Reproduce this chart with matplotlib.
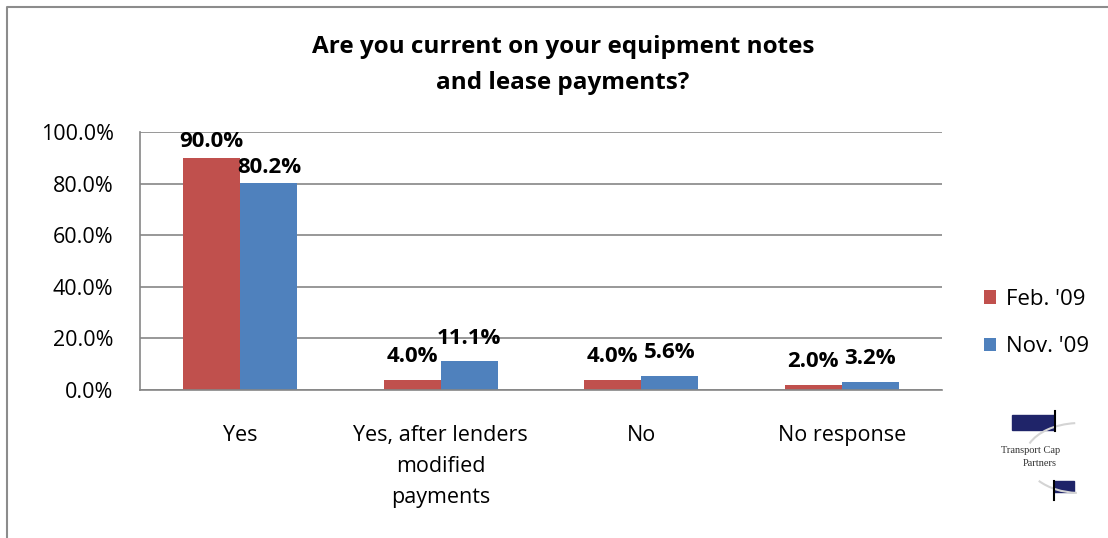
import matplotlib.pyplot as plt
import numpy as np
from matplotlib.patches import Rectangle, Arc

plt.rcParams['font.family'] = ['Open Sans', 'DejaVu Sans']

categories = ['Yes', 'Yes, after lenders\nmodified\npayments', 'No', 'No response']
feb_09 = [90.0, 4.0, 4.0, 2.0]
nov_09 = [80.2, 11.1, 5.6, 3.2]
series_names = ["Feb. '09", "Nov. '09"]

red = '#C0504D'
blue = '#4F81BD'
grid_grey = '#868686'

fig = plt.figure(figsize=(11.08, 5.38), dpi=100)
ax = fig.add_axes([140 / 1108, 1 - 390 / 538, 802 / 1108, 258 / 538])

x = np.arange(len(categories))
w = 0.285
bars_feb = ax.bar(x - w / 2, feb_09, w, color=red, label=series_names[0])
bars_nov = ax.bar(x + w / 2, nov_09, w, color=blue, label=series_names[1])

# value labels above each bar, pushed down a bit near the top of the axis
for bars, vals in [(bars_feb, feb_09), (bars_nov, nov_09)]:
    for b, v in zip(bars, vals):
        off = 4 if v > 75 else 9
        ax.annotate('%.1f%%' % v, (b.get_x() + b.get_width() / 2, v),
                    xytext=(0, off), textcoords='offset points',
                    ha='center', va='bottom', fontsize=16, fontweight='bold')

ax.set_xlim(-0.5, len(categories) - 0.5)
ax.set_ylim(0, 100)
ax.set_yticks(np.arange(0, 101, 20))
ax.set_yticklabels(['%.1f%%' % t for t in np.arange(0, 101, 20)])
ax.set_xticks(x)
ax.set_xticklabels(categories, linespacing=1.64)
ax.tick_params(axis='both', length=0, labelsize=15.5)
ax.tick_params(axis='y', pad=19)
ax.tick_params(axis='x', pad=25)
ax.yaxis.grid(True, color=grid_grey, linewidth=1.2)
ax.set_axisbelow(True)
for side in ['top', 'right']:
    ax.spines[side].set_visible(False)
for side in ['left', 'bottom']:
    ax.spines[side].set_color(grid_grey)
    ax.spines[side].set_linewidth(1.2)

fig.text(563 / 1108, 1 - 65 / 538,
         'Are you current on your equipment notes\nand lease payments?',
         ha='center', va='center', fontsize=17.5, fontweight='bold',
         linespacing=1.7)

fig.legend(handles=[bars_feb, bars_nov], loc='center left',
           bbox_to_anchor=(964 / 1108, 1 - 323 / 538), frameon=False,
           fontsize=16, handlelength=0.55, handleheight=0.55,
           handletextpad=0.45, labelspacing=1.2)

# overlay in pixel units for the frame and the logo
ov = fig.add_axes([0, 0, 1, 1], zorder=-1)
ov.set_xlim(0, 1108)
ov.set_ylim(538, 0)
ov.axis('off')
ov.plot([6.5, 6.5, 1108], [538, 7, 7], color='#8c8c8c', linewidth=1.5)

navy = '#1F2469'
ov.add_patch(Rectangle((1012, 415), 42, 15, color=navy))
ov.plot([1055, 1055], [411, 431], color='black', linewidth=1.5)
ov.add_patch(Rectangle((1054, 481), 20, 11, color=navy))
ov.plot([1054, 1054], [481, 500], color='black', linewidth=1.5)
ov.add_patch(Arc((1080, 457), 110, 68, theta1=195, theta2=262,
                 color='#d4d4d4', linewidth=1.5))
ov.add_patch(Arc((1080, 457), 110, 72, theta1=95, theta2=150,
                 color='#d4d4d4', linewidth=1.5))
ov.text(1001, 453, 'Transport Cap', fontsize=7.5, family='Liberation Serif',
        color='#333333', va='baseline')
ov.text(1023, 466, 'Partners', fontsize=7.5, family='Liberation Serif',
        color='#333333', va='baseline')

fig.savefig('out.png', dpi=100)
